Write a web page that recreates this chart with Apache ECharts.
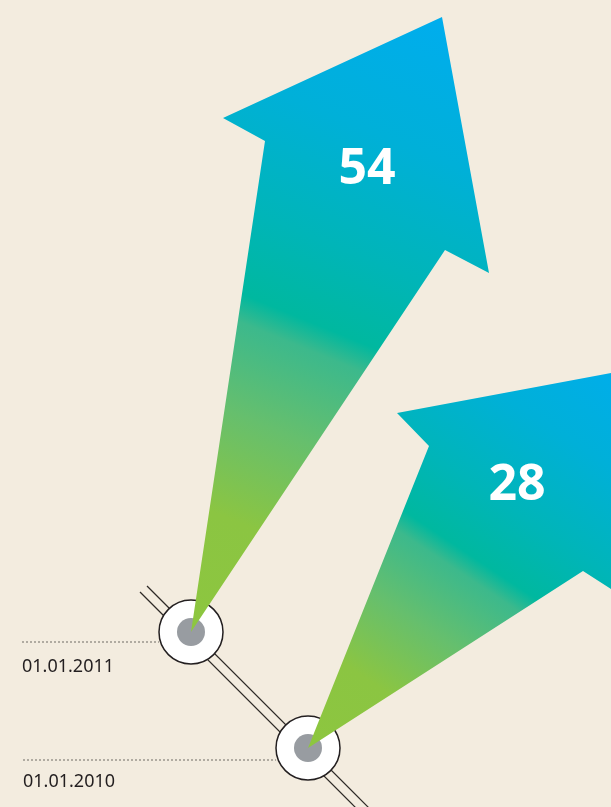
<!DOCTYPE html>
<html>
<head>
<meta charset="utf-8">
<script src="https://cdn.jsdelivr.net/npm/echarts@6/dist/echarts.min.js"></script>
<style>
  html, body { margin: 0; padding: 0; background: #f3ecdf; }
  #main { width: 611px; height: 807px; }
</style>
</head>
<body>
<div id="main"></div>
<script>
// dates on the timeline and the growth shown in each arrow
var dates = ['01.01.2011', '01.01.2010'];
var values = [54, 28];
// timeline node centres (chart units)
var nodeX = [191, 308];
var nodeY = [632, 748];
// arrow outlines: tail, left notch, left barb, tip, right barb, right notch
var arrow54 = [[191, 632], [265, 141], [223, 118], [442, 17], [489, 273], [445, 250]];
var arrow28 = [[308, 748], [429, 446], [397, 413], [680, 360], [662, 622], [583, 571]];
// where each arrow's colour ramp ends (blue end)
var rampEnd = [[442, 17], [586, 331]];
var valuePos = [[367, 170], [517, 486]];
// guide lines from label to node
var guideStart = [22, 23];
var guideY = [642, 760];
var labelY = [667, 782];
// the double track the nodes sit on
var track = [[[140, 592], [375, 827]], [[147, 586], [382, 821]]];

var dom = document.getElementById('main');
var myChart = echarts.init(dom);
var arrows = [arrow54, arrow28];

function gradFor(api, i) {
    var a = api.coord(arrows[i][0]);
    var b = api.coord(rampEnd[i]);
    return new echarts.graphic.LinearGradient(a[0], a[1], b[0], b[1], [
        { offset: 0, color: '#8dc63f' },
        { offset: 0.18, color: '#8bc542' },
        { offset: 0.33, color: '#66bf6d' },
        { offset: 0.46, color: '#3cb98c' },
        { offset: 0.5, color: '#00b89f' },
        { offset: 0.62, color: '#00b5b8' },
        { offset: 0.8, color: '#00b0d8' },
        { offset: 1, color: '#00adee' }
    ], true);
}

option = {
    backgroundColor: '#f3ecdf',
    animation: false,
    grid: { left: 0, right: 0, top: 0, bottom: 0 },
    xAxis: { type: 'value', min: 0, max: 611, show: false },
    yAxis: { type: 'value', min: 0, max: 807, inverse: true, show: false },
    series: [
        {
            name: 'track',
            type: 'custom',
            data: [0, 1],
            renderItem: function (params, api) {
                var seg = track[params.dataIndex];
                var p1 = api.coord(seg[0]), p2 = api.coord(seg[1]);
                return {
                    type: 'line',
                    shape: { x1: p1[0], y1: p1[1], x2: p2[0], y2: p2[1] },
                    style: { stroke: '#2e2a26', lineWidth: 1.2 }
                };
            }
        },
        {
            name: 'guides',
            type: 'custom',
            data: [0, 1],
            renderItem: function (params, api) {
                var i = params.dataIndex;
                var p1 = api.coord([guideStart[i], guideY[i]]);
                var p2 = api.coord([nodeX[i] - 32, guideY[i]]);
                return {
                    type: 'line',
                    shape: { x1: p1[0], y1: p1[1], x2: p2[0], y2: p2[1] },
                    style: { stroke: '#6e6a64', lineWidth: 1, lineDash: [2, 2] }
                };
            }
        },
        {
            name: 'nodes',
            type: 'custom',
            data: [0, 1],
            renderItem: function (params, api) {
                var i = params.dataIndex;
                var c = api.coord([nodeX[i], nodeY[i]]);
                return {
                    type: 'group',
                    children: [
                        { type: 'circle', shape: { cx: c[0], cy: c[1], r: 32 },
                          style: { fill: '#ffffff', stroke: '#231f20', lineWidth: 1.5 } },
                        { type: 'circle', shape: { cx: c[0], cy: c[1], r: 14 },
                          style: { fill: '#989ca1' } }
                    ]
                };
            }
        },
        {
            name: 'arrows',
            type: 'custom',
            data: [0, 1],
            renderItem: function (params, api) {
                var i = params.dataIndex;
                var pts = arrows[i].map(function (p) { return api.coord(p); });
                var t = api.coord(valuePos[i]);
                return {
                    type: 'group',
                    children: [
                        { type: 'polygon', shape: { points: pts },
                          style: { fill: gradFor(api, i) } },
                        { type: 'text', x: t[0], y: t[1],
                          style: { text: String(values[i]), fill: '#ffffff',
                                   font: 'bold 50px "Open Sans", "Noto Sans", sans-serif',
                                   align: 'center', verticalAlign: 'middle' } }
                    ]
                };
            }
        },
        {
            name: 'dates',
            type: 'custom',
            data: [0, 1],
            renderItem: function (params, api) {
                var i = params.dataIndex;
                var p = api.coord([guideStart[i], labelY[i]]);
                return {
                    type: 'text', x: p[0], y: p[1],
                    style: { text: dates[i], fill: '#231f20',
                             font: '18px "Noto Sans", sans-serif',
                             align: 'left', verticalAlign: 'middle' }
                };
            }
        }
    ]
};
myChart.setOption(option, true);
</script>
</body>
</html>
